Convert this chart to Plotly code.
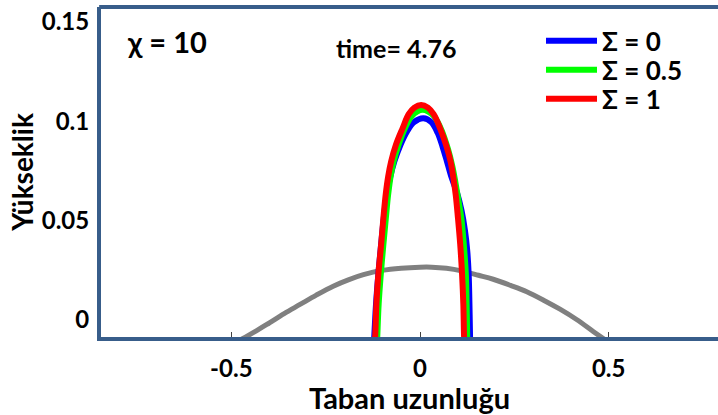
import plotly.graph_objects as go

# ---- data ----
gray_x = [-0.500, -0.464, -0.435, -0.406, -0.360, -0.318, -0.275, -0.230, -0.190, -0.150,
          -0.100, -0.050, 0.000, 0.031, 0.070, 0.110, 0.155, 0.194, 0.240, 0.283,
          0.330, 0.371, 0.415, 0.459, 0.500]
gray_y = [-0.0125, -0.0090, -0.0058, -0.0025, 0.0030, 0.0076, 0.0123, 0.0168, 0.0200, 0.0226,
          0.0248, 0.0259, 0.0264, 0.0264, 0.0258, 0.0245, 0.0223, 0.0203, 0.0172, 0.0140,
          0.0095, 0.0052, 0.0000, -0.0060, -0.0115]

blue_x = [-0.1225, -0.121, -0.1165, -0.1105, -0.103, -0.096, -0.088, -0.080, -0.068, -0.052,
          -0.034, -0.016, 0.009, 0.030, 0.047, 0.060, 0.071, 0.083, 0.098, 0.110,
          0.119, 0.125, 0.129, 0.131, 0.1325, 0.133]
blue_y = [-0.0120, -0.0075, 0.0080, 0.0227, 0.0380, 0.0512, 0.0629, 0.0710, 0.0797, 0.0880,
          0.0950, 0.0995, 0.1015, 0.0995, 0.0940, 0.0870, 0.0800, 0.0720, 0.0640, 0.0550,
          0.0450, 0.0350, 0.0227, 0.0080, -0.0075, -0.0120]

green_x = [-0.114, -0.113, -0.1095, -0.104, -0.097, -0.0905, -0.0845, -0.078, -0.070, -0.057,
           -0.040, -0.022, -0.008, 0.007, 0.022, 0.037, 0.057, 0.074, 0.086, 0.094,
           0.101, 0.1095, 0.116, 0.1215, 0.1235, 0.125, 0.1255]
green_y = [-0.0120, -0.0075, 0.0080, 0.0227, 0.0380, 0.0512, 0.0629, 0.0720, 0.0797, 0.0880,
           0.0965, 0.1025, 0.1048, 0.1057, 0.1048, 0.1025, 0.0955, 0.0860, 0.0770, 0.0690,
           0.0610, 0.0512, 0.0380, 0.0227, 0.0080, -0.0075, -0.0120]

red_x = [-0.120, -0.1185, -0.1155, -0.1105, -0.103, -0.097, -0.091, -0.0845, -0.0765, -0.064,
         -0.046, -0.030, -0.015, 0.003, 0.021, 0.036, 0.053, 0.069, 0.081, 0.088,
         0.0946, 0.1006, 0.1065, 0.1115, 0.1148, 0.1166, 0.1175]
red_y = [-0.0120, -0.0075, 0.0080, 0.0227, 0.0380, 0.0512, 0.0629, 0.0720, 0.0797, 0.0880,
         0.0965, 0.1035, 0.1068, 0.1082, 0.1068, 0.1035, 0.0965, 0.0880, 0.0797, 0.0720,
         0.0629, 0.0512, 0.0380, 0.0227, 0.0080, -0.0075, -0.0120]

series_names = ["Σ = 0", "Σ = 0.5", "Σ = 1"]
series_colors = ["#0000ff", "#00ff00", "#ff0000"]
legend_rows_px = [41, 70, 99]

x_ticks = [-0.5, 0, 0.5]
x_ticklabels = ["-0.5", "0", "0.5"]
y_ticks = [0, 0.05, 0.1, 0.15]
y_ticklabels = ["0", "0.05", "0.1", "0.15"]

FONT = "Lato"
AXIS_COLOR = "#385D8A"
PL, PT, PW, PH = 101, 7, 617, 330.5  # plot area in px

fig = go.Figure()
fig.add_trace(go.Scatter(x=gray_x, y=gray_y, mode="lines",
                         line=dict(color="#808080", width=5, shape="spline", smoothing=1),
                         showlegend=False, hoverinfo="skip"))
legend_ids = ["legend", "legend2", "legend3"]
for xs, ys, name, col, lid in zip([blue_x, green_x, red_x], [blue_y, green_y, red_y],
                                  series_names, series_colors, legend_ids):
    fig.add_trace(go.Scatter(x=xs, y=ys, mode="lines", name=name, legend=lid,
                             line=dict(color=col, width=6, shape="spline", smoothing=1)))

legend_layout = {}
for lid, rowpx in zip(legend_ids, legend_rows_px):
    legend_layout[lid] = dict(
        x=(541 - PL) / PW, y=1 - (rowpx - PT) / PH,
        xanchor="left", yanchor="middle", bgcolor="rgba(0,0,0,0)",
        font=dict(size=26, family=FONT, weight="bold", color="black"),
        itemwidth=51, borderwidth=0)

fig.update_layout(
    width=718, height=415,
    margin=dict(l=PL, r=0, t=PT, b=415 - PT - PH, autoexpand=False),
    paper_bgcolor="white", plot_bgcolor="white",
    font=dict(family=FONT, color="black", size=20, weight="bold"),
    showlegend=True,
    xaxis=dict(range=[-0.8455, 0.7898], tickvals=x_ticks, ticktext=x_ticklabels,
               showgrid=False, zeroline=False, showline=True, linecolor=AXIS_COLOR,
               linewidth=4, ticks="inside", ticklen=5, tickwidth=1, tickcolor="#404040",
               tickfont=dict(size=24, family=FONT, weight="bold"), ticklabelstandoff=7,
               title=dict(text="Taban uzunluğu", font=dict(size=29, family=FONT, weight="bold"),
                          standoff=3)),
    yaxis=dict(range=[-0.00881, 0.15755], tickvals=y_ticks, ticktext=y_ticklabels,
               showgrid=False, zeroline=False, showline=True, linecolor=AXIS_COLOR,
               linewidth=4, ticks="",
               tickfont=dict(size=24, family=FONT, weight="bold"), ticklabelstandoff=3,
               title=dict(text="Yükseklik", font=dict(size=28, family=FONT, weight="bold"),
                          standoff=1)),
    shapes=[dict(type="line", xref="paper", yref="paper", x0=-0.003, x1=1, y0=1, y1=1,
                 line=dict(color=AXIS_COLOR, width=4))],
    annotations=[
        dict(text="χ = 10", xref="paper", yref="paper", x=(125 - PL) / PW, y=1 - (42 - PT) / PH,
             xanchor="left", yanchor="middle", showarrow=False,
             font=dict(size=29, family=FONT, weight="bold")),
        dict(text="time= 4.76", xref="paper", yref="paper", x=(396 - PL) / PW, y=1 - (48 - PT) / PH,
             xanchor="center", yanchor="middle", showarrow=False,
             font=dict(size=25, family=FONT, weight="bold")),
    ],
    **legend_layout,
)

fig.write_html("out.html")
